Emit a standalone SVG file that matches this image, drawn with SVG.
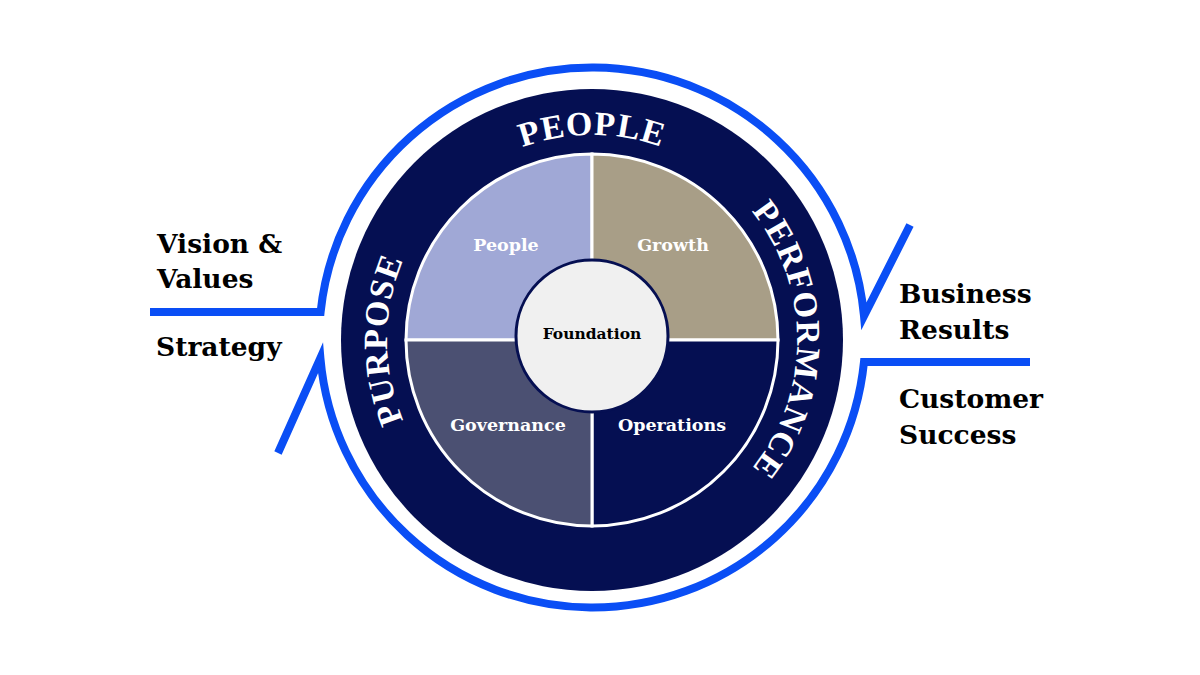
<svg xmlns="http://www.w3.org/2000/svg" width="1200" height="675" viewBox="0 0 1200 675">
<style>
.blue{fill:none;stroke:#0a4ef5;stroke-width:8}
.ring{font-family:"Liberation Serif",serif;font-weight:bold;font-size:34px;fill:#fff;letter-spacing:1px}
.q{font-family:"DejaVu Serif",serif;font-weight:bold;font-size:17.5px;fill:#fff;text-anchor:middle}
.side{font-family:"DejaVu Serif",serif;font-weight:bold;font-size:26.5px;fill:#000}
</style>
<defs>
<path id="pTop" d="M387,340 A205,205 0 0 1 797,340"/>
<path id="pLeft" d="M592,545 A205,205 0 0 1 592,135"/>
<path id="pRight" d="M592,135 A205,205 0 0 1 592,545"/>
</defs>
<rect width="1200" height="675" fill="#fff"/>
<g id="connectors">
<path class="blue" d="M150,312 H320.6 A273,273 0 0 1 864,316 L910,225"/>
<path class="blue" d="M278,453 L320.4,358 A273,273 0 0 0 864,362 H1030"/>
</g>
<g id="ring">
<circle cx="592" cy="340" r="251" fill="#050f52"/>
<text class="ring"><textPath href="#pTop" startOffset="50%" text-anchor="middle">PEOPLE</textPath></text>
<text class="ring"><textPath href="#pLeft" startOffset="50%" text-anchor="middle">PURPOSE</textPath></text>
<text class="ring"><textPath href="#pRight" startOffset="50%" text-anchor="middle">PERFORMANCE</textPath></text>
</g>
<g id="quadrants" stroke="#fff" stroke-width="3">
<path id="q-people" d="M592,340 H406 A186,186 0 0 1 592,154 Z" fill="#a0a8d6"/>
<path id="q-growth" d="M592,340 V154 A186,186 0 0 1 778,340 Z" fill="#a89e87"/>
<path id="q-operations" d="M592,340 H778 A186,186 0 0 1 592,526 Z" fill="#050f52"/>
<path id="q-governance" d="M592,340 V526 A186,186 0 0 1 406,340 Z" fill="#4b5072"/>
</g>
<g id="labels">
<text class="q" x="506" y="251">People</text>
<text class="q" x="673" y="251">Growth</text>
<text class="q" x="508" y="431">Governance</text>
<text class="q" x="672" y="431">Operations</text>
</g>
<g id="foundation">
<circle cx="592" cy="336" r="76" fill="#f0f0f0" stroke="#050f52" stroke-width="3"/>
<text x="592" y="339" text-anchor="middle" font-family="DejaVu Serif,serif" font-weight="bold" font-size="15.5">Foundation</text>
</g>
<g id="left-text">
<text class="side" x="157" y="253">Vision &amp;</text>
<text class="side" x="157" y="288">Values</text>
<text class="side" x="156" y="356">Strategy</text>
</g>
<g id="right-text">
<text class="side" x="899" y="303">Business</text>
<text class="side" x="899" y="339">Results</text>
<text class="side" x="899" y="408">Customer</text>
<text class="side" x="899" y="444">Success</text>
</g>
</svg>
